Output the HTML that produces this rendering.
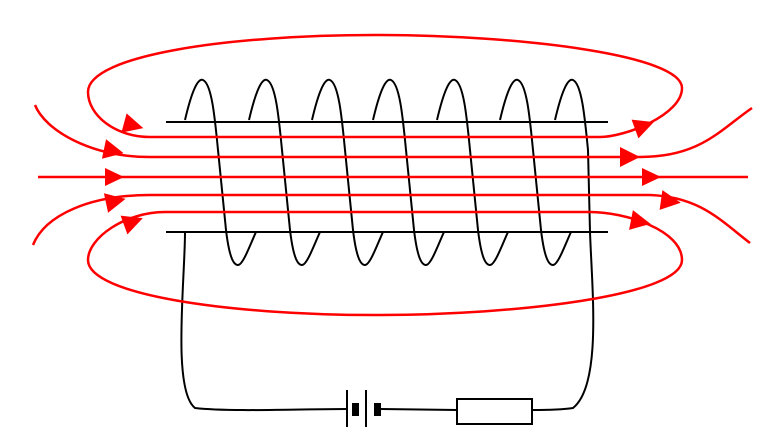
<!DOCTYPE html>
<html><head><style>html,body{margin:0;padding:0;background:#fff;}svg{display:block}</style></head>
<body>
<svg width="782" height="444" viewBox="0 0 782 444" xmlns="http://www.w3.org/2000/svg">
<g fill="none" stroke="#000" stroke-width="2">
<line x1="166" y1="122" x2="608" y2="122"/>
<line x1="166" y1="232" x2="608" y2="232"/>
<g id="t"><path d="M185,120 C192,90 198,78 203,80 C212,84 215,120 218,150 L226,230 C229,255 233,265 238,265 C243,265 250,245 256,232"/></g>
<use href="#t" x="64"/><use href="#t" x="127"/><use href="#t" x="188"/><use href="#t" x="252"/><use href="#t" x="315"/>
<path d="M555,120 C562,90 568,78 573,80 C582,84 585,120 588,150 L590,232"/>
<path d="M185,232 C185,280 172,390 195,408 C230,412 300,409 347,409"/>
<path d="M590,232 C592,290 602,385 573,408 C560,410 545,410 532,410"/>
<line x1="347" y1="390" x2="347" y2="427"/>
<line x1="366" y1="390" x2="366" y2="427"/>
<line x1="377" y1="409" x2="457" y2="410"/>
<rect x="457" y="399" width="75" height="25"/>
</g>
<rect x="352" y="403" width="7" height="13" fill="#000"/>
<rect x="374" y="403" width="7" height="13" fill="#000"/>
<g fill="none" stroke="#f00" stroke-width="2.5">
<path d="M600,137 C625,137 682,115 682,88 C682,55 520,35 375,35 C230,35 88,55 88,92 C88,115 115,137 150,137 Z"/>
<path d="M35,105 C45,130 90,157 150,157 L640,157 C700,157 720,130 752,108"/>
<line x1="38" y1="177" x2="748" y2="177"/>
<path d="M33,245 C45,215 90,195 150,195 L650,195 C700,197 720,220 750,243"/>
<path d="M165,212 L590,212 C625,212 682,230 682,260 C682,295 520,315 375,315 C230,315 88,295 88,260 C88,238 125,212 165,212 Z"/>
</g>
<g fill="#f00">
<polygon points="0,-10 20,0 0,10" transform="translate(124,123) rotate(15)"/>
<polygon points="0,-10 20,0 0,10" transform="translate(635,129) rotate(-20)"/>
<polygon points="0,-10 20,0 0,10" transform="translate(104,149) rotate(12)"/>
<polygon points="0,-10 20,0 0,10" transform="translate(620,157)"/>
<polygon points="0,-9 19,0 0,9" transform="translate(105,177)"/>
<polygon points="0,-9 19,0 0,9" transform="translate(642,177)"/>
<polygon points="0,-10 20,0 0,10" transform="translate(106,203) rotate(-12)"/>
<polygon points="0,-10 20,0 0,10" transform="translate(661,200) rotate(8)"/>
<polygon points="0,-10 20,0 0,10" transform="translate(124,225) rotate(-20)"/>
<polygon points="0,-10 20,0 0,10" transform="translate(631,220) rotate(11)"/>
</g>
</svg>
</body></html>
